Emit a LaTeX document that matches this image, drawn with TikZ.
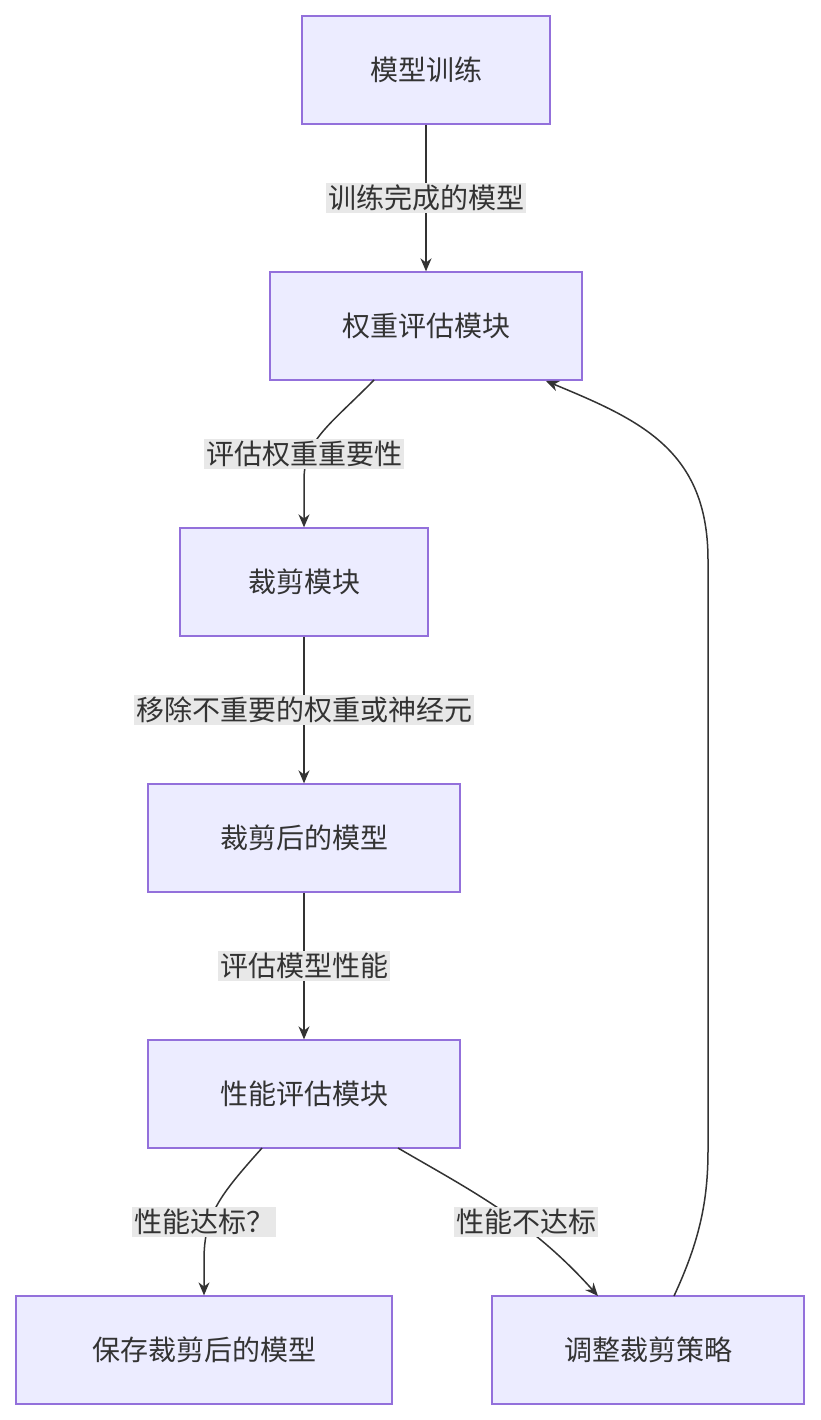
\documentclass[tikz,border=0pt]{standalone}
\usepackage{fontspec}
\setmainfont{Noto Sans CJK SC}
\usetikzlibrary{arrows.meta}
\definecolor{boxfill}{HTML}{ECECFF}
\definecolor{boxline}{HTML}{9370DB}
\definecolor{edge}{HTML}{333333}
\definecolor{lbl}{HTML}{E8E8E8}
\begin{document}
\begin{tikzpicture}[x=1pt,y=-1pt,
  box/.style={draw=boxline,fill=boxfill,line width=1.3pt,minimum height=108pt,inner sep=0pt,font=\fontsize{28}{32}\selectfont,text=edge},
  lab/.style={fill=lbl,inner sep=2pt,font=\fontsize{28}{32}\selectfont,text=edge},
  arr/.style={draw=edge,line width=1.5pt,-{Stealth[length=13pt,width=11pt]}}]
\useasboundingbox (0,0) rectangle (820,1420);
\node[box,minimum width=248pt] (a) at (426,70) {模型训练};
\node[box,minimum width=312pt] (b) at (426,326) {权重评估模块};
\node[box,minimum width=248pt] (c) at (304,582) {裁剪模块};
\node[box,minimum width=312pt] (d) at (304,838) {裁剪后的模型};
\node[box,minimum width=312pt] (e) at (304,1094) {性能评估模块};
\node[box,minimum width=376pt] (f) at (204,1350) {保存裁剪后的模型};
\node[box,minimum width=312pt] (g) at (648,1350) {调整裁剪策略};
\coordinate (b1) at (374,380);
\coordinate (e1) at (262,1148);
\coordinate (e2) at (398,1148);
\coordinate (g1) at (674,1296);
\coordinate (b2) at (546,381);
\draw[arr] (a) -- (b);
\draw[arr] (b1) .. controls (330,425) and (304,440) .. (304,480) -- (c.north -| 304,0);
\draw[arr] (c) -- (d);
\draw[arr] (d) -- (e);
\draw[arr] (e1) .. controls (220,1195) and (204,1215) .. (204,1260) -- (f.north);
\draw[arr] (e2) .. controls (470,1190) and (530,1220) .. (598,1296);
\draw[arr] (g1) .. controls (700,1240) and (708,1200) .. (708,1150) -- (708,560) .. controls (708,450) and (640,420) .. (b2);
\node[lab] (l1) at (426,198) {训练完成的模型};
\node[lab] (l2) at (304,454) {评估权重重要性};
\node[lab] (l3) at (304,710) {移除不重要的权重或神经元};
\node[lab] (l4) at (304,966) {评估模型性能};
\node[lab] (l5) at (204,1222) {性能达标？};
\node[lab] (l6) at (526,1222) {性能不达标};
\end{tikzpicture}
\end{document}
